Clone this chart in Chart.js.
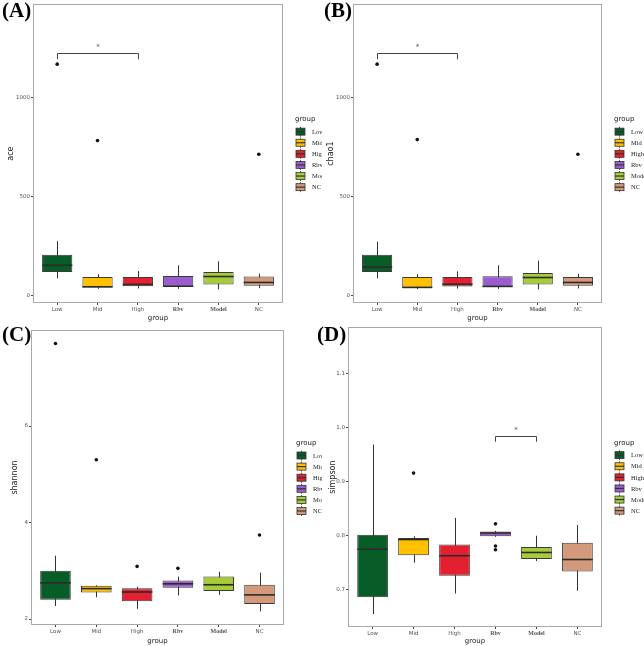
<!DOCTYPE html>
<html>
<head>
<meta charset="utf-8">
<script src="https://cdn.jsdelivr.net/npm/chart.js@4.4.1/dist/chart.umd.min.js"></script>
<style>
  body { margin: 0; background: #fff; width: 644px; height: 646px; position: relative; overflow: hidden; }
  .panel { position: absolute; width: 322px; height: 323px; }
  .tag { position: absolute; font: bold 21px "Liberation Serif", serif; color: #000; line-height: 1; }
</style>
</head>
<body>
<div class="panel" style="left:0;top:0"><canvas id="chartA" width="322" height="323"></canvas></div>
<div class="panel" style="left:322px;top:0"><canvas id="chartB" width="322" height="323"></canvas></div>
<div class="panel" style="left:0;top:323px"><canvas id="chartC" width="322" height="323"></canvas></div>
<div class="panel" style="left:322px;top:323px"><canvas id="chartD" width="322" height="323"></canvas></div>
<div class="tag" style="left:2px;top:0px">(A)</div>
<div class="tag" style="left:324px;top:0px">(B)</div>
<div class="tag" style="left:2px;top:324px">(C)</div>
<div class="tag" style="left:317px;top:324px">(D)</div>
<script>
// groups and fill colours
const groups = ['Low', 'Mid', 'High', 'Rbv', 'Model', 'NC'];
const groupColors = ['#075c28', '#ffc000', '#e32030', '#9b5ccf', '#a6cc3a', '#d4987a'];

// (A) ace
const aceQ1  = [117, 39, 45, 42, 54, 47];
const aceQ3  = [204, 92, 92, 97, 117, 94];
const aceMed = [151, 42, 54, 45, 94, 64];
const aceLo  = [85, 32, 34, 32, 29, 35];
const aceHi  = [273, 106, 122, 151, 171, 109];
const aceOut = [[0, 1169], [1, 782], [5, 713]];
const aceTicks = [0, 500, 1000];
const aceSig = [0, 2, 1226, 1194];

// (B) chao1
const chaoQ1  = [117, 37, 44, 41, 54, 47];
const chaoQ3  = [204, 91, 91, 96, 112, 92];
const chaoMed = [142, 39, 55, 44, 89, 64];
const chaoLo  = [85, 31, 33, 31, 29, 34];
const chaoHi  = [270, 106, 120, 151, 174, 108];
const chaoOut = [[0, 1169], [1, 787], [5, 713]];
const chaoTicks = [0, 500, 1000];
const chaoSig = [0, 2, 1226, 1194];

// (C) shannon
const shanQ1  = [2.40, 2.55, 2.37, 2.65, 2.58, 2.31];
const shanQ3  = [3.00, 2.69, 2.64, 2.80, 2.88, 2.71];
const shanMed = [2.75, 2.63, 2.56, 2.73, 2.71, 2.50];
const shanLo  = [2.27, 2.45, 2.21, 2.49, 2.50, 2.16];
const shanHi  = [3.31, 2.70, 2.67, 2.88, 2.98, 2.96];
const shanOut = [[0, 7.71], [1, 5.30], [2, 3.09], [3, 3.05], [5, 3.74]];
const shanTicks = [2, 4, 6];

// (D) simpson
const simpQ1  = [0.685, 0.763, 0.725, 0.798, 0.756, 0.733];
const simpQ3  = [0.801, 0.795, 0.783, 0.807, 0.778, 0.786];
const simpMed = [0.774, 0.792, 0.762, 0.804, 0.768, 0.755];
const simpLo  = [0.654, 0.749, 0.692, 0.797, 0.752, 0.697];
const simpHi  = [0.968, 0.798, 0.832, 0.808, 0.799, 0.819];
const simpOut = [[1, 0.915], [3, 0.821], [3, 0.780], [3, 0.773]];
const simpTicks = [0.7, 0.8, 0.9, 1.0, 1.1];
const simpSig = [3, 4, 0.983, 0.973];

const sans = 'DejaVu Sans';
const serif = 'Liberation Serif';

// whiskers, medians, brackets, panel border and the boxplot legend
function boxExtras(p) {
    return {
        id: 'boxExtras',
        beforeDatasetsDraw(chart) {
            const { ctx, scales: { x, y } } = chart;
            ctx.save();
            ctx.strokeStyle = '#333';
            ctx.lineWidth = 1;
            p.lo.forEach((v, i) => {
                const px = Math.round(x.getPixelForValue(i + 1)) + 0.5;
                ctx.beginPath();
                ctx.moveTo(px, y.getPixelForValue(v));
                ctx.lineTo(px, y.getPixelForValue(p.hi[i]));
                ctx.stroke();
            });
            ctx.restore();
        },
        afterDatasetsDraw(chart) {
            const { ctx, chartArea: a, scales: { x, y } } = chart;
            ctx.save();
            // medians
            ctx.strokeStyle = '#2b2b2b';
            ctx.lineWidth = 1.6;
            chart.getDatasetMeta(0).data.forEach((bar, i) => {
                const py = y.getPixelForValue(p.med[i]);
                ctx.beginPath();
                ctx.moveTo(bar.x - bar.width / 2, py);
                ctx.lineTo(bar.x + bar.width / 2, py);
                ctx.stroke();
            });
            // significance bracket
            if (p.sig) {
                const x1 = Math.round(x.getPixelForValue(p.sig[0] + 1)) + 0.5;
                const x2 = Math.round(x.getPixelForValue(p.sig[1] + 1)) + 0.5;
                const yTop = Math.round(y.getPixelForValue(p.sig[2])) + 0.5;
                const yDrop = y.getPixelForValue(p.sig[3]);
                ctx.strokeStyle = '#444';
                ctx.lineWidth = 1;
                ctx.beginPath();
                ctx.moveTo(x1, yDrop);
                ctx.lineTo(x1, yTop);
                ctx.lineTo(x2, yTop);
                ctx.lineTo(x2, yDrop);
                ctx.stroke();
                ctx.fillStyle = '#555';
                ctx.font = '7px ' + sans;
                ctx.textAlign = 'center';
                ctx.textBaseline = 'middle';
                ctx.fillText('*', (x1 + x2) / 2, yTop - 6);
            }
            // panel border
            ctx.strokeStyle = '#a8a8a8';
            ctx.lineWidth = 1;
            ctx.strokeRect(Math.round(a.left) + 0.5, Math.round(a.top) + 0.5,
                Math.round(a.width) - 1, Math.round(a.height) - 1);
            // legend
            const cy = (a.top + a.bottom) / 2;
            const lx = a.right + 13;
            ctx.fillStyle = '#222';
            ctx.font = '7px ' + sans;
            ctx.textAlign = 'left';
            ctx.textBaseline = 'middle';
            ctx.fillText('group', lx - 1, cy - 34);
            groups.forEach((g, i) => {
                const ky = cy - 22 + i * 11.1;
                ctx.strokeStyle = '#333';
                ctx.lineWidth = 0.8;
                ctx.beginPath();
                ctx.moveTo(lx + 4.5, ky - 5);
                ctx.lineTo(lx + 4.5, ky + 5);
                ctx.stroke();
                ctx.fillStyle = groupColors[i];
                ctx.fillRect(lx, ky - 3.5, 9, 7);
                ctx.strokeRect(lx, ky - 3.5, 9, 7);
                ctx.lineWidth = 1.2;
                ctx.beginPath();
                ctx.moveTo(lx, ky);
                ctx.lineTo(lx + 9, ky);
                ctx.stroke();
                ctx.fillStyle = '#222';
                ctx.font = '6.5px ' + serif;
                ctx.fillText(g, lx + 16, ky + 0.5);
            });
            ctx.restore();
        }
    };
}

function makePanel(id, p) {
    new Chart(document.getElementById(id), {
        type: 'bar',
        data: {
            datasets: [{
                data: groups.map((g, i) => ({ x: i + 1, y: [p.q1[i], p.q3[i]] })),
                backgroundColor: groupColors,
                borderColor: '#3a3a3a',
                borderWidth: 1,
                borderSkipped: false,
                barPercentage: 0.75,
                categoryPercentage: 1
            }, {
                type: 'scatter',
                data: p.out.map(o => ({ x: o[0] + 1, y: o[1] })),
                backgroundColor: '#111',
                borderWidth: 0,
                pointRadius: 1.8
            }]
        },
        options: {
            responsive: false,
            animation: false,
            events: [],
            layout: { padding: { left: 0, top: p.top, right: p.right, bottom: 0 } },
            plugins: { legend: { display: false }, tooltip: { enabled: false } },
            scales: {
                x: {
                    type: 'linear',
                    min: 0.4,
                    max: 6.6,
                    offset: false,
                    afterBuildTicks: s => { s.ticks = groups.map((g, i) => ({ value: i + 1 })); },
                    afterFit: s => { s.height = p.xh; },
                    grid: { display: true, offset: false, drawOnChartArea: false, drawTicks: true, tickLength: 2, color: '#444' },
                    border: { display: false },
                    ticks: {
                        callback: v => groups[v - 1],
                        autoSkip: false,
                        maxRotation: 0,
                        padding: 1,
                        color: '#555',
                        font: c => (c.index === 3 || c.index === 4)
                            ? { family: serif, size: 6, weight: 'bold' }
                            : { family: sans, size: 5.5 }
                    },
                    title: {
                        display: true,
                        text: 'group',
                        color: '#222',
                        font: { family: sans, size: 7 },
                        padding: { top: 0, bottom: 1 }
                    }
                },
                y: {
                    min: p.min,
                    max: p.max,
                    afterBuildTicks: s => { s.ticks = p.ticks.map(v => ({ value: v })); },
                    afterFit: s => { s.width = p.yw; },
                    grid: { display: true, drawOnChartArea: false, drawTicks: true, tickLength: 2, color: '#444' },
                    border: { display: false },
                    ticks: {
                        callback: v => p.fmt(v),
                        padding: 1,
                        color: '#555',
                        font: { family: sans, size: 5.5 }
                    },
                    title: {
                        display: true,
                        text: p.title,
                        color: '#222',
                        font: { family: sans, size: 8 },
                        padding: { top: p.tp, bottom: 0 }
                    }
                }
            }
        },
        plugins: [boxExtras(p)]
    });
}

const intFmt = v => String(v);
makePanel('chartA', { q1: aceQ1, q3: aceQ3, med: aceMed, lo: aceLo, hi: aceHi, out: aceOut,
    ticks: aceTicks, sig: aceSig, min: -40, max: 1472, title: 'ace', fmt: intFmt,
    yw: 33, xh: 20, top: 2, right: 39, tp: 6 });
makePanel('chartB', { q1: chaoQ1, q3: chaoQ3, med: chaoMed, lo: chaoLo, hi: chaoHi, out: chaoOut,
    ticks: chaoTicks, sig: chaoSig, min: -40, max: 1472, title: 'chao1', fmt: intFmt,
    yw: 31, xh: 20, top: 2, right: 42, tp: 4 });
makePanel('chartC', { q1: shanQ1, q3: shanQ3, med: shanMed, lo: shanLo, hi: shanHi, out: shanOut,
    ticks: shanTicks, sig: null, min: 1.876, max: 7.99, title: 'shannon', fmt: intFmt,
    yw: 31, xh: 21, top: 7, right: 38, tp: 10 });
makePanel('chartD', { q1: simpQ1, q3: simpQ3, med: simpMed, lo: simpLo, hi: simpHi, out: simpOut,
    ticks: simpTicks, sig: simpSig, min: 0.63, max: 1.185, title: 'simpson', fmt: v => v.toFixed(1),
    yw: 26, xh: 19, top: 4, right: 42, tp: 6 });
</script>
</body>
</html>
